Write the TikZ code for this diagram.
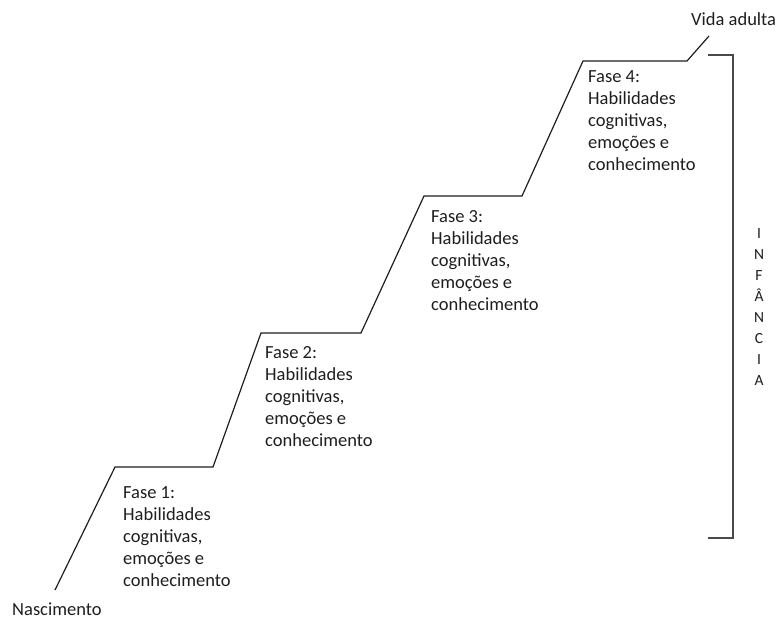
\documentclass[tikz,border=0pt]{standalone}
\usepackage{fontspec}
\setmainfont{Carlito}
\usepackage{tikz}
\usetikzlibrary{positioning,calc}
\definecolor{ink}     {HTML}{1E1E1E}
\definecolor{softink} {HTML}{4A4A4A}
\tikzset{
  every node/.style={font=\fontsize{18.5}{22}\selectfont, text=ink},
  % --- nodes
  fase/.style  = {align=left, inner sep=0pt, anchor=base west},
  marco/.style = {inner sep=0pt, anchor=base west},
  letras/.style= {align=center, inner sep=0pt, font=\fontsize{15.5}{21}\selectfont},
  % --- edges
  escada/.style= {draw=ink, line width=1.2pt, line join=miter},
  chave/.style = {draw=softink, line width=1.4pt},
}

\begin{document}
\begin{tikzpicture}[x=1pt,y=-1pt]
  \useasboundingbox (0,0) rectangle (777,621);

  % corners of the staircase
  \coordinate (s0) at (55,590);
  \coordinate (s1) at (115,467);
  \coordinate (s2) at (213,467);
  \coordinate (s3) at (261,333);
  \coordinate (s4) at (361,333);
  \coordinate (s5) at (424,196);
  \coordinate (s6) at (522,196);
  \coordinate (s7) at (583,61);
  \coordinate (s8) at (687,61);
  \coordinate (s9) at (709,36);

  \draw[escada] (s0) -- (s1) -- (s2) -- (s3) -- (s4) -- (s5) -- (s6) -- (s7) -- (s8) -- (s9);

  % ends
  \node[marco] (nasc)   at (12,615) {Nascimento};
  \node[marco] (adulta) at (691,25) {Vida adulta};

  % the four phases (base = last line)
  \node[fase] (fase1) at (123,586)
        {Fase 1:\\Habilidades\\cognitivas,\\emoções e\\conhecimento};
  \node[fase] (fase2) at (265,446)
        {Fase 2:\\Habilidades\\cognitivas,\\emoções e\\conhecimento};
  \node[fase] (fase3) at (431,310)
        {Fase 3:\\Habilidades\\cognitivas,\\emoções e\\conhecimento};
  \node[fase] (fase4) at (588,170)
        {Fase 4:\\Habilidades\\cognitivas,\\emoções e\\conhecimento};

  % bracket
  \coordinate (c0) at (708,55);
  \coordinate (c1) at (733,55);
  \coordinate (c2) at (733,538);
  \coordinate (c3) at (708,538);
  \draw[chave] (c0) -- (c1) -- (c2) -- (c3);

  \node[letras] (infancia) at (759,307) {I\\N\\F\\Â\\N\\C\\I\\A};
\end{tikzpicture}
\end{document}
